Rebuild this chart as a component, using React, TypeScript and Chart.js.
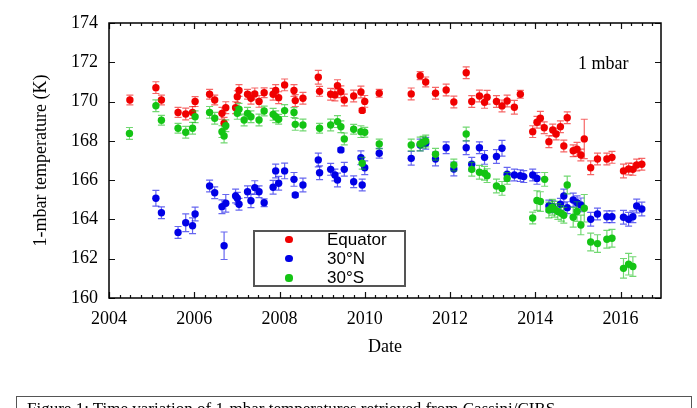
import React, { useEffect, useRef } from "react";
import { Chart, registerables } from "chart.js";

Chart.register(...registerables);

// ---------- data ----------
const eqDates = [2004.49, 2005.10, 2005.23, 2005.62, 2005.80, 2005.96, 2006.02, 2006.36, 2006.48, 2006.65, 2006.70, 2006.74, 2006.97, 2007.01, 2007.05, 2007.25, 2007.33, 2007.42, 2007.52, 2007.64, 2007.85, 2007.91, 2007.98, 2008.12, 2008.34, 2008.37, 2008.55, 2008.91, 2008.94, 2009.20, 2009.30, 2009.36, 2009.44, 2009.52, 2009.74, 2009.91, 2009.94, 2010.00, 2010.34, 2011.09, 2011.30, 2011.43, 2011.66, 2011.91, 2012.09, 2012.38, 2012.51, 2012.69, 2012.81, 2012.87, 2013.09, 2013.22, 2013.34, 2013.51, 2013.65, 2013.94, 2014.04, 2014.12, 2014.21, 2014.32, 2014.41, 2014.49, 2014.59, 2014.67, 2014.75, 2014.89, 2014.98, 2015.07, 2015.15, 2015.30, 2015.46, 2015.68, 2015.80, 2016.07, 2016.19, 2016.29, 2016.38, 2016.50];
const eqTemps = [170.08, 170.71, 170.08, 169.45, 169.37, 169.44, 170.00, 170.37, 170.08, 169.40, 168.90, 169.69, 169.69, 170.25, 170.56, 170.37, 170.17, 170.39, 170.01, 170.45, 170.37, 170.56, 170.20, 170.85, 170.56, 170.05, 170.17, 171.24, 170.52, 170.37, 170.34, 170.81, 170.50, 170.08, 170.28, 170.49, 169.55, 170.01, 170.42, 170.39, 171.32, 171.00, 170.42, 170.59, 169.98, 171.47, 170.00, 170.28, 169.96, 170.22, 170.00, 169.78, 170.03, 169.71, 170.37, 168.47, 168.95, 169.15, 168.67, 167.96, 168.55, 168.35, 168.72, 167.74, 169.18, 167.50, 167.57, 167.28, 168.10, 166.63, 167.08, 167.08, 167.16, 166.47, 166.57, 166.55, 166.77, 166.81];
const eqErrs = [0.25, 0.3, 0.25, 0.25, 0.3, 0.3, 0.25, 0.25, 0.25, 0.3, 0.3, 0.3, 0.3, 0.3, 0.3, 0.25, 0.3, 0.3, 0.3, 0.25, 0.3, 0.3, 0.3, 0.3, 0.3, 0.3, 0.3, 0.35, 0.25, 0.3, 0.3, 0.3, 0.3, 0.3, 0.3, 0.3, 0.1, 0.3, 0.2, 0.3, 0.2, 0.25, 0.3, 0.3, 0.3, 0.3, 0.3, 0.3, 0.3, 0.35, 0.3, 0.3, 0.3, 0.35, 0.2, 0.3, 0.3, 0.35, 0.3, 0.3, 0.3, 0.3, 0.3, 0.3, 0.3, 0.3, 0.35, 0.3, 1.0, 0.35, 0.3, 0.3, 0.3, 0.35, 0.3, 0.3, 0.3, 0.3];

const nDates = [2005.10, 2005.23, 2005.62, 2005.80, 2005.96, 2006.02, 2006.36, 2006.48, 2006.65, 2006.70, 2006.74, 2006.97, 2007.01, 2007.05, 2007.25, 2007.33, 2007.42, 2007.52, 2007.64, 2007.85, 2007.91, 2007.98, 2008.12, 2008.34, 2008.37, 2008.55, 2008.91, 2008.94, 2009.20, 2009.30, 2009.36, 2009.44, 2009.52, 2009.74, 2009.91, 2009.94, 2010.00, 2010.34, 2011.09, 2011.30, 2011.43, 2011.66, 2011.91, 2012.09, 2012.38, 2012.51, 2012.69, 2012.81, 2013.09, 2013.22, 2013.34, 2013.51, 2013.65, 2013.73, 2013.94, 2014.04, 2014.32, 2014.41, 2014.59, 2014.67, 2014.75, 2014.89, 2014.98, 2015.07, 2015.30, 2015.46, 2015.68, 2015.80, 2016.07, 2016.19, 2016.29, 2016.38, 2016.50];
const nTemps = [165.08, 164.34, 163.34, 163.83, 163.68, 164.28, 165.70, 165.36, 164.65, 162.66, 164.82, 165.19, 165.08, 164.77, 165.41, 164.95, 165.62, 165.41, 164.85, 165.64, 166.47, 165.84, 166.47, 166.04, 165.24, 165.75, 167.03, 166.38, 166.55, 166.26, 166.01, 167.54, 166.55, 165.92, 167.14, 165.75, 166.63, 167.37, 167.11, 167.79, 167.88, 167.08, 167.65, 166.57, 167.65, 166.81, 167.65, 167.16, 167.20, 167.62, 166.30, 166.26, 166.23, 166.18, 166.26, 166.09, 164.68, 164.65, 164.77, 165.19, 164.60, 164.99, 164.85, 164.74, 164.01, 164.28, 164.14, 164.14, 164.11, 164.01, 164.14, 164.68, 164.53];
const nErrs = [0.4, 0.3, 0.3, 0.45, 0.4, 0.35, 0.3, 0.3, 0.35, 0.7, 0.45, 0.35, 0.3, 0.3, 0.3, 0.35, 0.35, 0.3, 0.2, 0.35, 0.35, 0.35, 0.4, 0.35, 0.1, 0.35, 0.35, 0.35, 0.3, 0.3, 0.35, 0.1, 0.35, 0.3, 0.35, 0.3, 0.35, 0.25, 0.35, 0.3, 0.3, 0.35, 0.3, 0.35, 0.35, 0.35, 0.3, 0.35, 0.35, 0.4, 0.35, 0.3, 0.3, 0.3, 0.3, 0.3, 0.3, 0.3, 0.3, 0.35, 0.3, 0.35, 0.35, 0.35, 0.35, 0.3, 0.3, 0.3, 0.35, 0.35, 0.3, 0.35, 0.35];

const sDates = [2004.48, 2005.10, 2005.23, 2005.62, 2005.80, 2005.96, 2006.02, 2006.36, 2006.48, 2006.65, 2006.70, 2006.74, 2007.01, 2007.05, 2007.17, 2007.25, 2007.33, 2007.52, 2007.64, 2007.85, 2007.91, 2007.98, 2008.12, 2008.34, 2008.37, 2008.55, 2008.94, 2009.20, 2009.36, 2009.44, 2009.52, 2009.74, 2009.91, 2009.94, 2010.00, 2010.34, 2011.09, 2011.30, 2011.37, 2011.43, 2011.66, 2012.09, 2012.38, 2012.51, 2012.69, 2012.81, 2012.87, 2013.09, 2013.22, 2013.34, 2013.94, 2014.04, 2014.12, 2014.22, 2014.32, 2014.40, 2014.45, 2014.53, 2014.61, 2014.67, 2014.75, 2014.89, 2014.98, 2015.07, 2015.15, 2015.30, 2015.46, 2015.68, 2015.80, 2016.07, 2016.19, 2016.29];
const sTemps = [168.38, 169.79, 169.05, 168.64, 168.44, 168.64, 169.23, 169.45, 169.15, 168.47, 168.25, 168.77, 169.40, 169.61, 169.06, 169.40, 169.23, 169.06, 169.52, 169.35, 169.23, 169.10, 169.54, 169.44, 168.84, 168.81, 168.64, 168.81, 168.98, 168.72, 168.10, 168.59, 168.47, 166.86, 168.44, 167.84, 167.79, 167.84, 167.93, 167.99, 167.32, 166.77, 168.35, 166.55, 166.40, 166.35, 166.23, 165.70, 165.58, 166.09, 164.07, 164.96, 164.91, 166.04, 164.48, 164.62, 164.52, 164.40, 164.31, 164.21, 165.75, 164.11, 164.40, 163.72, 164.57, 162.85, 162.77, 162.99, 163.04, 161.51, 161.72, 161.60];
const sErrs = [0.3, 0.3, 0.25, 0.25, 0.3, 0.3, 0.3, 0.3, 0.3, 0.3, 0.35, 0.3, 0.3, 0.3, 0.3, 0.3, 0.3, 0.3, 0.25, 0.3, 0.3, 0.25, 0.3, 0.25, 0.3, 0.3, 0.25, 0.3, 0.3, 0.3, 0.3, 0.25, 0.3, 0.3, 0.25, 0.25, 0.3, 0.35, 0.3, 0.3, 0.3, 0.3, 0.35, 0.35, 0.35, 0.35, 0.35, 0.35, 0.35, 0.3, 0.3, 0.5, 0.5, 0.35, 0.4, 0.4, 0.4, 0.4, 0.4, 0.4, 0.45, 0.5, 0.5, 0.5, 0.7, 0.45, 0.45, 0.45, 0.45, 0.5, 0.55, 0.5];

const seriesNames = ["Equator", "30°N", "30°S"];
const xTickYears = [2004, 2006, 2008, 2010, 2012, 2014, 2016];
const yTickValues = [160, 162, 164, 166, 168, 170, 172, 174];
const xRange = [2004, 2016.95];
const yRange = [160, 174];
const xTitle = "Date";
const yTitle = "1-mbar temperature (K)";
const panelLabel = "1 mbar";
const caption = "Figure 1: Time variation of 1-mbar temperatures retrieved from Cassini/CIRS";

// ---------- styles ----------
const COLORS = ["#f00000", "#0000e6", "#14c414"];
const ERR_COLORS = ["rgba(240,0,0,0.6)", "rgba(0,0,230,0.6)", "rgba(20,190,20,0.6)"];
const SERIF = "'Liberation Serif', 'Times New Roman', serif";
const SANS = "'Liberation Sans', Arial, sans-serif";

const toPoints = (xs: number[], ys: number[]) => xs.map((x, i) => ({ x, y: ys[i] }));

const errorBarPlugin = {
  id: "errorBars",
  beforeDatasetDraw(chart: any, args: any) {
    const ds = chart.data.datasets[args.index];
    const errs: number[] | undefined = ds.errors;
    if (!errs) return;
    const xs = chart.scales.x;
    const ys = chart.scales.y;
    const ctx = chart.ctx;
    const a = chart.chartArea;
    ctx.save();
    ctx.beginPath();
    ctx.rect(a.left, a.top, a.right - a.left, a.bottom - a.top);
    ctx.clip();
    ctx.strokeStyle = ds.errorColor;
    ctx.lineWidth = 1.2;
    ds.data.forEach((p: any, i: number) => {
      const px = xs.getPixelForValue(p.x);
      const y1 = ys.getPixelForValue(p.y - errs[i]);
      const y2 = ys.getPixelForValue(p.y + errs[i]);
      ctx.beginPath();
      ctx.moveTo(px, y1);
      ctx.lineTo(px, y2);
      ctx.moveTo(px - 3.5, y1);
      ctx.lineTo(px + 3.5, y1);
      ctx.moveTo(px - 3.5, y2);
      ctx.lineTo(px + 3.5, y2);
      ctx.stroke();
    });
    ctx.restore();
  },
};

const framePlugin = {
  id: "frameTicks",
  afterDraw(chart: any) {
    const ctx = chart.ctx;
    const a = chart.chartArea;
    const xs = chart.scales.x;
    const ys = chart.scales.y;
    ctx.save();
    ctx.strokeStyle = "#111";
    ctx.lineWidth = 1.2;
    ctx.beginPath();
    for (let q = xRange[0] * 4; q <= xRange[1] * 4; q++) {
      const v = q / 4;
      const px = Math.round(xs.getPixelForValue(v)) + 0.5;
      const major = xTickYears.includes(v);
      const len = major ? 6 : 3;
      ctx.moveTo(px, a.bottom);
      ctx.lineTo(px, a.bottom - len);
      ctx.moveTo(px, a.top);
      ctx.lineTo(px, a.top + len);
    }
    yTickValues.forEach((v) => {
      const py = Math.round(ys.getPixelForValue(v)) + 0.5;
      ctx.moveTo(a.left, py);
      ctx.lineTo(a.left + 6, py);
      ctx.moveTo(a.right, py);
      ctx.lineTo(a.right - 6, py);
    });
    ctx.stroke();
    ctx.lineWidth = 1.5;
    ctx.strokeStyle = "#000";
    ctx.strokeRect(a.left, a.top, a.right - a.left, a.bottom - a.top);
    ctx.restore();
  },
};

export default function App() {
  const canvasRef = useRef<HTMLCanvasElement | null>(null);

  useEffect(() => {
    const canvas = canvasRef.current;
    if (!canvas) return;
    const allDates = [eqDates, nDates, sDates];
    const allTemps = [eqTemps, nTemps, sTemps];
    const allErrs = [eqErrs, nErrs, sErrs];
    const orders = [3, 2, 1];
    const chart = new Chart(canvas, {
      type: "scatter",
      data: {
        datasets: seriesNames.map((name, i) => ({
          label: name,
          data: toPoints(allDates[i], allTemps[i]),
          errors: allErrs[i],
          errorColor: ERR_COLORS[i],
          backgroundColor: COLORS[i],
          borderColor: COLORS[i],
          pointRadius: 3.7,
          pointBorderWidth: 0,
          pointHoverRadius: 3.7,
          showLine: false,
          order: orders[i],
        })) as any,
      },
      options: {
        responsive: false,
        animation: false,
        events: [],
        layout: { padding: { top: 23, right: 36, bottom: 0, left: 0 } },
        plugins: {
          legend: { display: false },
          tooltip: { enabled: false },
        },
        scales: {
          x: {
            type: "linear",
            min: xRange[0],
            max: xRange[1],
            grid: { display: false, drawTicks: false },
            border: { display: false },
            afterBuildTicks: (scale: any) => {
              scale.ticks = xTickYears.map((v) => ({ value: v }));
            },
            afterFit: (scale: any) => {
              scale.height = 110;
            },
            ticks: {
              color: "#000",
              padding: 10,
              maxRotation: 0,
              autoSkip: false,
              font: { family: SERIF, size: 18 },
              callback: (v: any) => String(v),
            },
            title: {
              display: true,
              text: xTitle,
              color: "#000",
              font: { family: SERIF, size: 18 },
              padding: { top: 0, bottom: 50 },
            },
          },
          y: {
            type: "linear",
            min: yRange[0],
            max: yRange[1],
            grid: { display: false, drawTicks: false },
            border: { display: false },
            afterBuildTicks: (scale: any) => {
              scale.ticks = yTickValues.map((v) => ({ value: v }));
            },
            afterFit: (scale: any) => {
              scale.width = 109;
            },
            ticks: {
              color: "#000",
              padding: 11,
              autoSkip: false,
              font: { family: SERIF, size: 18 },
              callback: (v: any) => String(v),
            },
            title: {
              display: true,
              text: yTitle,
              color: "#000",
              font: { family: SERIF, size: 18 },
              padding: { top: 30, bottom: 0 },
            },
          },
        },
      } as any,
      plugins: [errorBarPlugin, framePlugin],
    });
    return () => chart.destroy();
  }, []);

  const legendRows = [239.5, 258.5, 278];

  return (
    <div style={{ position: "absolute", left: 0, top: 0, width: 697, height: 408, overflow: "hidden", background: "#fff" }}>
      <canvas ref={canvasRef} width={697} height={408} style={{ position: "absolute", left: 0, top: 0, width: 697, height: 408 }} />
      <div
        style={{
          position: "absolute",
          left: 253,
          top: 230,
          width: 153,
          height: 57,
          boxSizing: "border-box",
          border: "2px solid #555",
          background: "#fff",
        }}
      />
      {seriesNames.map((name, i) => (
        <React.Fragment key={name}>
          <div
            style={{
              position: "absolute",
              left: 289 - 3.6,
              top: legendRows[i] - 3.6,
              width: 7.2,
              height: 7.2,
              borderRadius: "50%",
              background: COLORS[i],
            }}
          />
          <div
            style={{
              position: "absolute",
              left: 327,
              top: legendRows[i] - 10,
              height: 20,
              lineHeight: "20px",
              fontFamily: SANS,
              fontSize: 17,
              color: "#000",
              whiteSpace: "nowrap",
            }}
          >
            {name}
          </div>
        </React.Fragment>
      ))}
      <div
        style={{
          position: "absolute",
          left: 578,
          top: 52.5,
          height: 20,
          lineHeight: "20px",
          fontFamily: SERIF,
          fontSize: 18,
          color: "#000",
          whiteSpace: "nowrap",
        }}
      >
        {panelLabel}
      </div>
      <div
        style={{
          position: "absolute",
          left: 16,
          top: 396,
          width: 676,
          height: 40,
          boxSizing: "border-box",
          border: "1px solid #555",
          padding: "2px 0 0 10px",
          fontFamily: SERIF,
          fontSize: 17,
          lineHeight: "normal",
          color: "#000",
          whiteSpace: "nowrap",
        }}
      >
        {caption}
      </div>
    </div>
  );
}
